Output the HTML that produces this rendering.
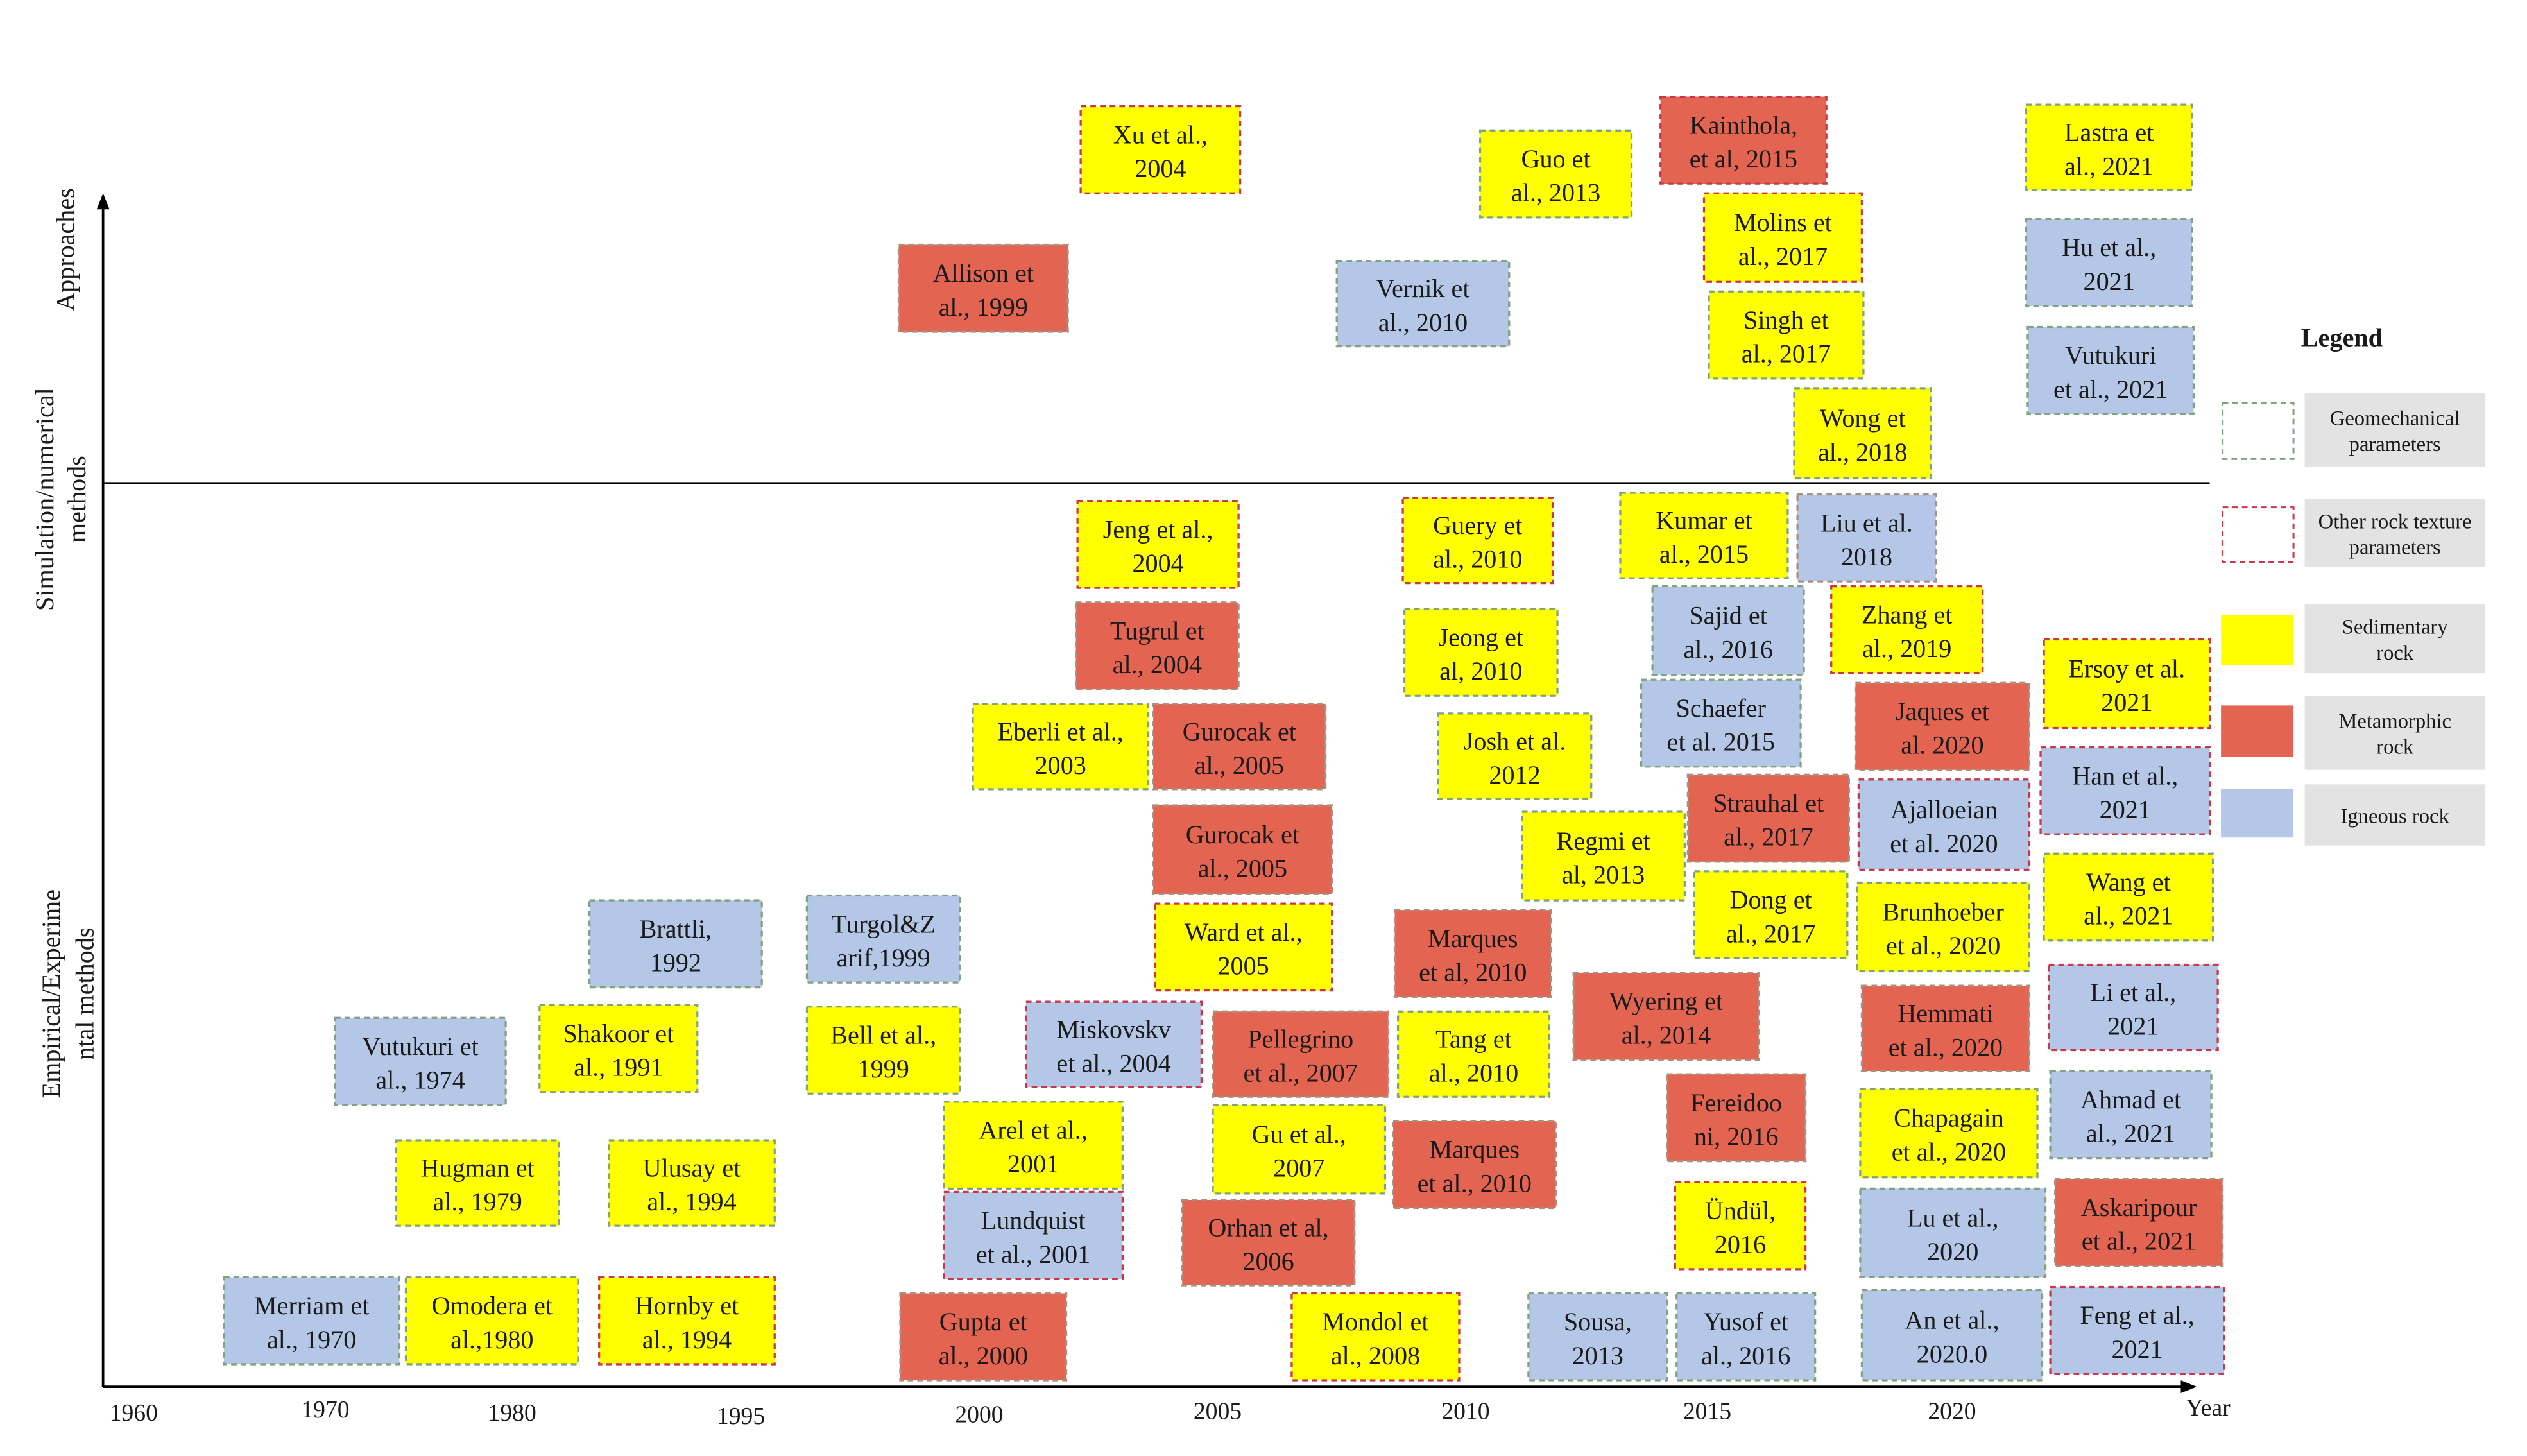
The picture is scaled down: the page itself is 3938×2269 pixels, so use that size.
<!DOCTYPE html>
<html><head><meta charset="utf-8">
<style>
html,body{margin:0;padding:0;background:#fff;}
svg{display:block;}
text{font-family:"Liberation Serif",serif;fill:#1a1a1a;}
</style></head>
<body>
<svg id="chart" xmlns="http://www.w3.org/2000/svg" width="3938" height="2269" viewBox="0 0 1569 904" preserveAspectRatio="none">
<defs>
<marker id="arr" markerWidth="10" markerHeight="10" refX="8" refY="5" orient="auto" markerUnits="userSpaceOnUse"><path d="M0,1 L10,5 L0,9 z" fill="#000"/></marker>
</defs>
<g>
<line x1="64" y1="861" x2="64" y2="122" stroke="#000" stroke-width="1.5" marker-end="url(#arr)"/>
<line x1="64" y1="861" x2="1362" y2="861" stroke="#000" stroke-width="1.5" marker-end="url(#arr)"/>
<line x1="64" y1="300" x2="1372" y2="300" stroke="#000" stroke-width="1.3"/>
</g>
<g font-size="16">
<text transform="translate(46,155) rotate(-90)" text-anchor="middle">Approaches</text>
<text transform="translate(33,310) rotate(-90)" text-anchor="middle">Simulation/numerical</text>
<text transform="translate(53,310) rotate(-90)" text-anchor="middle">methods</text>
<text transform="translate(37,617) rotate(-90)" text-anchor="middle">Empirical/Experime</text>
<text transform="translate(58,617) rotate(-90)" text-anchor="middle">ntal methods</text>
</g>
<g id="ticks" font-size="15"></g>
<g id="boxes" font-size="16"></g>
<g id="legend" font-size="13"></g>
</svg>
<script>
var tickLabels = ["1960","1970","1980","1995","2000","2005","2010","2015","2020","Year"];
var tickX = [83,202,318,460,608,756,910,1060,1212,1371];
var tickY = [882,880,882,884,883,881,881,881,881,879];
// [x1,y1,x2,y2,fill(y/r/b),border(g/r/n),line1,line2]
var boxes = [
[671,66,770,120,"y","r","Xu et al.,","2004"],
[558,152,663,206,"r","n","Allison  et","al., 1999"],
[830,162,937,215,"b","g","Vernik et","al., 2010"],
[919,81,1013,135,"y","g","Guo  et","al., 2013"],
[1031,60,1134,114,"r","r","Kainthola,","et al, 2015"],
[1058,120,1156,175,"y","r","Molins  et","al., 2017"],
[1061,181,1157,235,"y","g","Singh  et","al., 2017"],
[1114,241,1199,297,"y","g","Wong et","al., 2018"],
[1258,65,1361,118,"y","g","Lastra et","al., 2021"],
[1258,136,1361,190,"b","g","Hu et al.,","2021"],
[1259,203,1362,257,"b","g","Vutukuri","et al., 2021"],
[669,311,769,365,"y","r","Jeng et al.,","2004"],
[668,374,769,428,"r","n","Tugrul et","al., 2004"],
[604,437,713,490,"y","g","Eberli et al.,","2003"],
[716,437,823,490,"r","n","Gurocak et","al., 2005"],
[716,500,827,555,"r","n","Gurocak et","al., 2005"],
[717,561,827,615,"y","r","Ward et al.,","2005"],
[871,309,964,362,"y","r","Guery et","al., 2010"],
[872,378,967,432,"y","g","Jeong et","al, 2010"],
[893,443,988,496,"y","g","Josh et al.","2012"],
[1006,306,1110,359,"y","g","Kumar et","al., 2015"],
[1116,307,1202,361,"b","n","Liu et al.","2018"],
[1026,364,1120,419,"b","g","Sajid  et","al., 2016"],
[1137,364,1231,418,"y","r","Zhang et","al., 2019"],
[1019,422,1118,476,"b","g","Schaefer","et al. 2015"],
[1152,424,1260,478,"r","n","Jaques et","al. 2020"],
[1269,397,1372,452,"y","r","Ersoy et al.","2021"],
[1267,464,1372,518,"b","r","Han et al.,","2021"],
[1048,481,1148,535,"r","n","Strauhal et","al., 2017"],
[1154,484,1260,540,"b","r","Ajalloeian","et al. 2020"],
[945,504,1046,559,"y","g","Regmi et","al, 2013"],
[1052,541,1147,595,"y","g","Dong et","al., 2017"],
[1153,548,1260,603,"y","g","Brunhoeber","et al., 2020"],
[1269,530,1374,584,"y","g","Wang et","al., 2021"],
[866,565,963,619,"r","n","Marques","et al, 2010"],
[977,604,1092,658,"r","n","Wyering et","al., 2014"],
[1156,612,1260,665,"r","n","Hemmati","et al., 2020"],
[1272,599,1377,652,"b","r","Li et al.,","2021"],
[366,559,473,613,"b","g","Brattli,","1992"],
[501,556,596,610,"b","g","Turgol&Z","arif,1999"],
[208,632,314,686,"b","g","Vutukuri et","al., 1974"],
[335,624,433,678,"y","g","Shakoor et","al., 1991"],
[501,625,596,679,"y","g","Bell et al.,","1999"],
[637,622,746,675,"b","r","Miskovskv","et al., 2004"],
[753,628,862,681,"r","n","Pellegrino","et al., 2007"],
[868,628,962,681,"y","g","Tang et","al., 2010"],
[1035,667,1121,721,"r","n","Fereidoo","ni, 2016"],
[1273,665,1373,719,"b","g","Ahmad et","al., 2021"],
[246,708,347,761,"y","g","Hugman et","al., 1979"],
[378,708,481,761,"y","g","Ulusay et","al., 1994"],
[586,684,697,738,"y","g","Arel et al.,","2001"],
[753,686,860,741,"y","g","Gu et al.,","2007"],
[865,696,966,750,"r","n","Marques","et al., 2010"],
[1155,676,1265,731,"y","g","Chapagain","et al., 2020"],
[586,740,697,794,"b","r","Lundquist","et al., 2001"],
[734,745,841,798,"r","n","Orhan et al,","2006"],
[1040,734,1121,788,"y","r","Ündül,","2016"],
[1155,738,1270,793,"b","g","Lu et al.,","2020"],
[1276,732,1380,786,"r","n","Askaripour","et al., 2021"],
[139,793,248,847,"b","g","Merriam et","al., 1970"],
[252,793,359,847,"y","g","Omodera et","al.,1980"],
[372,793,481,847,"y","r","Hornby et","al., 1994"],
[559,803,662,857,"r","n","Gupta et","al., 2000"],
[802,803,906,857,"y","r","Mondol  et","al., 2008"],
[949,803,1035,857,"b","g","Sousa,","2013"],
[1041,803,1127,857,"b","g","Yusof et","al., 2016"],
[1156,801,1268,857,"b","g","An et al.,","2020.0"],
[1273,799,1381,853,"b","r","Feng et al.,","2021"]
];
var legendLabels = [["Geomechanical","parameters"],["Other rock texture","parameters"],["Sedimentary","rock"],["Metamorphic","rock"],["Igneous rock",""]];
var legendKinds = ["g","r","y","m","b"];

var NS="http://www.w3.org/2000/svg";
var fills={y:"#ffff00",r:"#e46452",b:"#b4c7e7",w:"#ffffff"};
var strokes={g:"#7fa37f",r:"#c8384a",n:"#a89080"};
function mk(tag,attrs,parent){var e=document.createElementNS(NS,tag);for(var k in attrs)e.setAttribute(k,attrs[k]);parent.appendChild(e);return e;}
function slug(s){return s.toLowerCase().replace(/[^a-z0-9]+/g,'-').replace(/^-|-$/g,'');}

var tg=document.getElementById('ticks');
tickLabels.forEach(function(t,i){
  var e=mk('text',{x:tickX[i],y:tickY[i],'text-anchor':'middle'},tg);
  
  
  e.textContent=t;
});

var bg=document.getElementById('boxes');
boxes.forEach(function(b,i){
  var g=mk('g',{},bg);
  
  
  mk('rect',{x:b[0],y:b[1],width:b[2]-b[0],height:b[3]-b[1],fill:fills[b[4]],stroke:strokes[b[5]],'stroke-width':1.3,'stroke-dasharray':'3.5,2.5'},g);
  var cx=(b[0]+b[2])/2, cy=(b[1]+b[3])/2;
  var t1=mk('text',{x:cx,y:cy-4,'text-anchor':'middle'},g);t1.textContent=b[6];
  var t2=mk('text',{x:cx,y:cy+17,'text-anchor':'middle'},g);t2.textContent=b[7];
});

var lg=document.getElementById('legend');
var lt=mk('text',{x:1454,y:215,'text-anchor':'middle','font-size':16,'font-weight':'bold'},lg);


lt.textContent='Legend';
var rowsY=[[250,285,244,290],[315,349,310,352],[382,413,375,418],[438,470,432,478],[490,520,487,525]];
legendLabels.forEach(function(l,i){
  var g=mk('g',{},lg);
  
  
  var r=rowsY[i], k=legendKinds[i];
  if(k==='g'||k==='r') mk('rect',{x:1380,y:r[0],width:44,height:r[1]-r[0],fill:'#fff',stroke:strokes[k],'stroke-width':1.2,'stroke-dasharray':'3.5,2.5'},g);
  else mk('rect',{x:1379,y:r[0],width:45,height:r[1]-r[0],fill:k==='y'?fills.y:(k==='m'?fills.r:fills.b)},g);
  mk('rect',{x:1431,y:r[2],width:112,height:r[3]-r[2],fill:'#e3e3e3'},g);
  var cy=(r[2]+r[3])/2;
  if(l[1]){
    var a=mk('text',{x:1487,y:cy-3,'text-anchor':'middle'},g);a.textContent=l[0];
    var c=mk('text',{x:1487,y:cy+13,'text-anchor':'middle'},g);c.textContent=l[1];
  } else {
    var a2=mk('text',{x:1487,y:cy+5,'text-anchor':'middle'},g);a2.textContent=l[0];
  }
});
</script>
</body></html>
